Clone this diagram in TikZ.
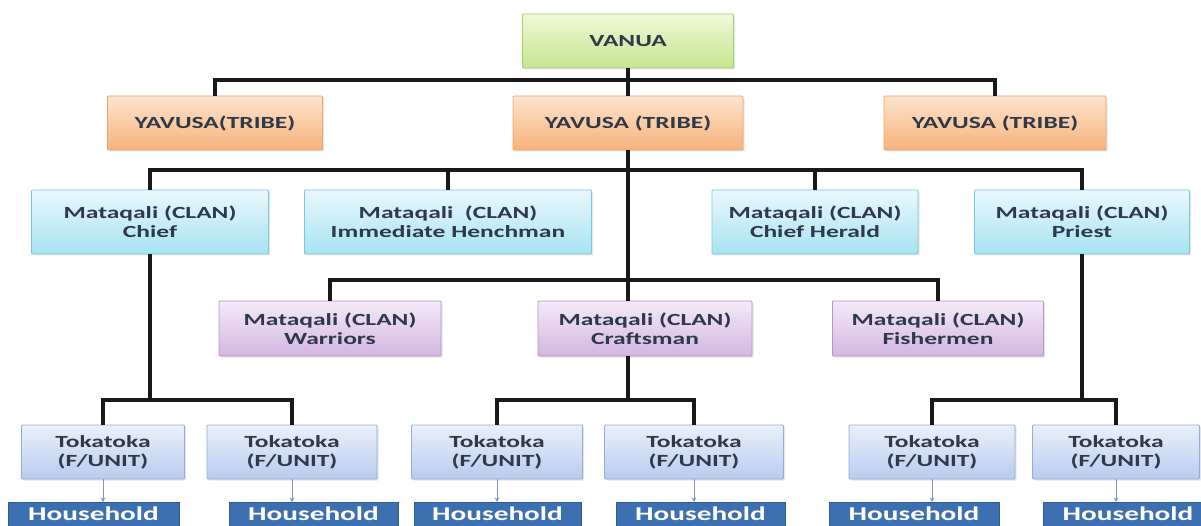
\documentclass[tikz,border=0pt]{standalone}
\usepackage{fontspec}
\setmainfont{Carlito}[FakeStretch=1.5]
\usetikzlibrary{arrows.meta,shadows}

\definecolor{inkc}{HTML}{2E3A4A}
\definecolor{landtop}{HTML}{EEF9DA}
\definecolor{landbot}{HTML}{C6E58E}
\definecolor{landline}{HTML}{A8CF70}
\definecolor{tribetop}{HTML}{FDE4CD}
\definecolor{tribebot}{HTML}{F7B27B}
\definecolor{tribeline}{HTML}{EDA56E}
\definecolor{clantop}{HTML}{EAF8FD}
\definecolor{clanbot}{HTML}{A7E2F3}
\definecolor{clanline}{HTML}{7EC6DC}
\definecolor{crafttop}{HTML}{F4EAF8}
\definecolor{craftbot}{HTML}{D3B6E1}
\definecolor{craftline}{HTML}{B497C6}
\definecolor{unittop}{HTML}{EAF0FB}
\definecolor{unitbot}{HTML}{B8CCEE}
\definecolor{unitline}{HTML}{93ADD7}
\definecolor{housefill}{HTML}{3D70B0}
\definecolor{houseline}{HTML}{2C5A93}
\definecolor{arrowc}{HTML}{7F96B8}

\tikzstyle{box}=[draw,rectangle,rounded corners=1pt,line width=0.9pt,align=center,text=inkc,inner sep=2pt,
  font=\fontsize{17}{19}\selectfont\bfseries,
  drop shadow={opacity=0.2,shadow xshift=1.5pt,shadow yshift=-1.5pt}]
\tikzstyle{land}=[box,draw=landline,top color=landtop,bottom color=landbot,minimum height=54pt]
\tikzstyle{tribe}=[box,draw=tribeline,top color=tribetop,bottom color=tribebot,minimum height=54pt]
\tikzstyle{clan}=[box,draw=clanline,top color=clantop,bottom color=clanbot,minimum height=64pt]
\tikzstyle{craft}=[box,draw=craftline,top color=crafttop,bottom color=craftbot,minimum height=55pt]
\tikzstyle{unit}=[box,draw=unitline,top color=unittop,bottom color=unitbot,minimum height=54pt]
\tikzstyle{house}=[draw=houseline,fill=housefill,line width=0.9pt,text=white,anchor=north,
  font=\fontsize{19.5}{22}\selectfont\bfseries,text height=14pt,text depth=20pt,inner ysep=4pt]
\tikzstyle{link}=[draw,line width=3.2pt,black!90]
\tikzstyle{unit arrow}=[draw,line width=0.9pt,arrowc,-{Stealth[length=4.5pt,width=4.5pt]}]

\begin{document}
\begin{tikzpicture}[x=1pt,y=-1pt]
  \path[use as bounding box] (0,0) rectangle (1201,526);
  \fill[white] (0,0) rectangle (1201,526);
  \clip (0,0) rectangle (1201,526);
  % top of the tree
  \node[land,minimum width=211pt] (vanua) at (628,41) {VANUA};
  \node[tribe,minimum width=215pt] (yav1) at (215,123) {YAVUSA(TRIBE)};
  \node[tribe,minimum width=230pt] (yav2) at (628,123) {YAVUSA (TRIBE)};
  \node[tribe,minimum width=222pt] (yav3) at (995,123) {YAVUSA (TRIBE)};
  % clans, first row
  \node[clan,minimum width=237pt] (chief) at (150,222) {Mataqali (CLAN)\\Chief};
  \node[clan,minimum width=287pt] (hench) at (448,222) {Mataqali~~(CLAN)\\Immediate Henchman};
  \node[clan,minimum width=206pt] (herald) at (815,222) {Mataqali (CLAN)\\Chief Herald};
  \node[clan,minimum width=215pt] (priest) at (1082,222) {Mataqali (CLAN)\\Priest};
  % clans, second row
  \node[craft,minimum width=222pt] (warriors) at (330,328.5) {Mataqali (CLAN)\\Warriors};
  \node[craft,minimum width=214pt] (crafts) at (645,328.5) {Mataqali (CLAN)\\Craftsman};
  \node[craft,minimum width=211pt] (fisher) at (938,328.5) {Mataqali (CLAN)\\Fishermen};
  % family units
  \node[unit,minimum width=163pt] (t1) at (103,452) {Tokatoka\\(F/UNIT)};
  \node[unit,minimum width=170pt] (t2) at (292,452) {Tokatoka\\(F/UNIT)};
  \node[unit,minimum width=171pt] (t3) at (497,452) {Tokatoka\\(F/UNIT)};
  \node[unit,minimum width=179pt] (t4) at (694,452) {Tokatoka\\(F/UNIT)};
  \node[unit,minimum width=166pt] (t5) at (932,452) {Tokatoka\\(F/UNIT)};
  \node[unit,minimum width=167pt] (t6) at (1116,452) {Tokatoka\\(F/UNIT)};
  % households
  \node[house,minimum width=171pt] (h1) at (93.5,502) {Household};
  \node[house,minimum width=169pt] (h2) at (313.5,502) {Household};
  \node[house,minimum width=167pt] (h3) at (497.5,502) {Household};
  \node[house,minimum width=169pt] (h4) at (700.5,502) {Household};
  \node[house,minimum width=170pt] (h5) at (914,502) {Household};
  \node[house,minimum width=170pt] (h6) at (1128,502) {Household};
  % bus points
  \coordinate (topbus) at (628,80);
  \coordinate (clanbus) at (628,170);
  \coordinate (craftbus) at (628,280);
  \coordinate (chiefbus) at (150,400);
  \coordinate (midbus) at (628,400);
  \coordinate (priestbus) at (1082,400);
  % connect the boxes
  \path[link] (vanua.south) -- (topbus);
  \path[link] (yav1.north) |- (topbus) -| (yav3.north);
  \path[link] (topbus) -- (yav2.north);
  \path[link] (chief.north) |- (clanbus) -| (priest.north);
  \foreach \clan in {hench, herald}
    \path[link] (\clan.north) -- (\clan.north |- clanbus);
  \path[link] (yav2.south) -- (craftbus);
  \path[link] (warriors.north) |- (craftbus) -| (fisher.north);
  \path[link] (craftbus) -- (craftbus |- crafts.north);
  \path[link] (chief.south) -- (chiefbus);
  \path[link] (crafts.south -| midbus) -- (midbus);
  \path[link] (priest.south) -- (priestbus);
  \foreach \left/\bus/\right in {t1/chiefbus/t2, t3/midbus/t4, t5/priestbus/t6}
    \path[link] (\left.north) |- (\bus) -| (\right.north);
  % family unit to household
  \foreach \unit/\house in {t1/h1, t2/h2, t3/h3, t4/h4, t5/h5, t6/h6}
    \path[unit arrow] (\unit.south) -- (\unit.south |- \house.north);
\end{tikzpicture}
\end{document}
